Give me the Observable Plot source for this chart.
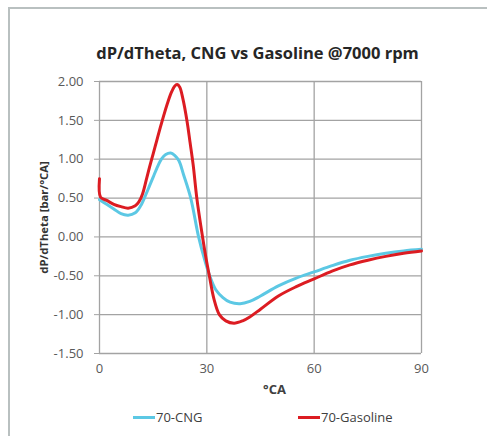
<!DOCTYPE html>
<html>
<head>
<meta charset="utf-8">
<script src="https://cdn.jsdelivr.net/npm/d3@7"></script>
<script src="https://cdn.jsdelivr.net/npm/@observablehq/plot@0.6"></script>
<style>
  html, body { margin: 0; padding: 0; background: #fff; }
  #wrap { position: relative; width: 487px; height: 436px; overflow: hidden; font-family: "Open Sans", sans-serif; }
  #frame { position: absolute; left: 8px; top: 7px; width: 500px; height: 460px; border-left: 2px solid #b9c0c0; border-top: 2px solid #b9c0c0; box-sizing: border-box; }
  #chart { position: absolute; left: 0; top: 0; }
  .legend { position: absolute; top: 407px; font-size: 13px; color: #404040; display: flex; align-items: center; height: 20px; }
  .legend .sw { display: inline-block; width: 22px; height: 3px; margin-right: 1px; }
  g[aria-label="y-axis label"] text { font-weight: bold; font-size: 11.3px; fill: #333; }
</style>
</head>
<body>
<div id="wrap">
  <div id="frame"></div>
  <div id="chart"></div>
  <div class="legend" style="left:133px"><span class="sw" style="background:#5cc8e4"></span><span>70-CNG</span></div>
  <div class="legend" style="left:298px"><span class="sw" style="background:#dc1c22"></span><span>70-Gasoline</span></div>
</div>
<script>
const title = "dP/dTheta, CNG vs Gasoline @7000 rpm";
const xLabel = "°CA";
const yLabel = "dP/dTheta [bar/°CA]";
const xTicks = [0, 30, 60, 90];
const yTicks = [-1.5, -1.0, -0.5, 0, 0.5, 1.0, 1.5, 2.0];

const cngX = [0,2,4,6,8,10,11.5,13,14,15,16,17.3,18.5,19.9,21,22.2,23.5,25.5,27.7,29.3,30.8,32.5,34.5,36.5,39.3,42,45,50,55,60,65,70,75,80,85,90];
const cngY = [0.48,0.42,0.36,0.30,0.28,0.31,0.40,0.55,0.66,0.77,0.88,1.0,1.06,1.08,1.05,0.98,0.80,0.5,0.0,-0.28,-0.5,-0.68,-0.78,-0.84,-0.86,-0.83,-0.76,-0.63,-0.53,-0.45,-0.37,-0.30,-0.25,-0.21,-0.18,-0.16];

const gasX = [0,0.3,2,4,6,8,10,11,12,13,14,15,16,17,18,19,20,21,21.7,22.4,23.3,24.5,25.3,26.2,27.2,28.8,29.8,30.7,32,33.5,35.3,37.6,40,42,45,50,55,60,65,70,75,80,85,90];
const gasY = [0.75,0.51,0.47,0.42,0.39,0.37,0.40,0.45,0.55,0.72,0.90,1.07,1.24,1.41,1.57,1.72,1.85,1.94,1.96,1.93,1.78,1.48,1.22,0.92,0.5,0.0,-0.28,-0.5,-0.8,-1.0,-1.08,-1.11,-1.08,-1.03,-0.93,-0.76,-0.64,-0.54,-0.44,-0.36,-0.30,-0.25,-0.21,-0.18];

const cng = cngX.map((x, i) => ({x, y: cngY[i]}));
const gas = gasX.map((x, i) => ({x, y: gasY[i]}));

const gridColor = "#a3a3a3";
const chart = Plot.plot({
  width: 487,
  height: 436,
  marginLeft: 99,
  marginRight: 66,
  marginTop: 81,
  marginBottom: 83,
  style: { fontFamily: "Open Sans, sans-serif", fontSize: "13px", color: "#595959", background: "transparent" },
  x: { domain: [0, 90] },
  y: { domain: [-1.5, 2.0] },
  marks: [
    Plot.gridY(yTicks, { stroke: gridColor, strokeOpacity: 1, strokeWidth: 1.3 }),
    Plot.gridX(xTicks, { stroke: gridColor, strokeOpacity: 1, strokeWidth: 1.3 }),
    Plot.axisY(yTicks, { tickFormat: d => d.toFixed(2), tickSize: 5, tickPadding: 11, stroke: gridColor, fill: "#595959", fontSize: 13,
      label: yLabel, labelAnchor: "center", labelArrow: "none", labelOffset: 60 }),
    Plot.axisX(xTicks, { tickFormat: d => String(d), tickSize: 0, tickPadding: 10, fill: "#595959", fontSize: 13, label: null }),
    Plot.line(cng, { x: "x", y: "y", stroke: "#5cc8e4", strokeWidth: 3, curve: "catmull-rom" }),
    Plot.line(gas, { x: "x", y: "y", stroke: "#dc1c22", strokeWidth: 3, curve: "catmull-rom" }),
    Plot.text([title], { frameAnchor: "top", dx: -3, dy: -34, fontSize: 16.5, fontWeight: "bold", fill: "#262626" }),
    Plot.text([xLabel], { frameAnchor: "bottom", dx: 14, dy: 40, fontSize: 13, fontWeight: "bold", fill: "#404040" })
  ]
});
document.getElementById("chart").appendChild(chart);
</script>
</body>
</html>
